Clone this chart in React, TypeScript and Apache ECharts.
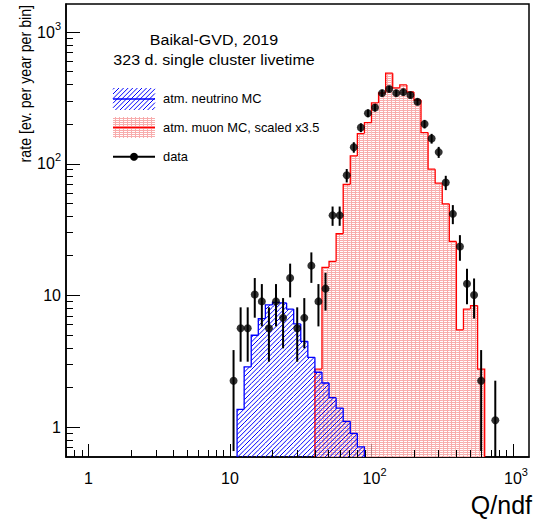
import React, { useEffect, useRef } from "react";
import * as echarts from "echarts";

const W = 534;
const H = 523;
const FONT = "'Liberation Sans', Arial, Helvetica, sans-serif";

// Histogram binning: uniform bins of 0.05 in log10(Q/ndf); bin k spans [10^(0.05k), 10^(0.05(k+1))]
const LOG_BIN = 0.05;

// atm. neutrino MC (blue hatched), first bin index
const nuFirstBin = 21;
const nuRates = [1.37, 2.88, 5.0, 6.7, 8.5, 8.9, 8.8, 7.9, 6.1, 4.5, 3.4, 2.62, 2.17, 1.68, 1.4, 1.11, 0.9, 0.71];

// atm. muon MC scaled x3.5 (red)
const muFirstBin = 32;
const muRates = [2.77, 16.4, 18.2, 29.5, 69.8, 115, 170, 206, 291, 346, 489, 378, 398, 352, 306, 173, 91.3, 71.5, 49.8, 25.8, 5.5, 7.9, 8.4, 2.77];

// data points (bin centres), rate and error
const dataFirstBin = 20;
const dataRates = [2.26, 5.65, 5.65, 10.2, 9.04, 5.65, 9.04, 6.78, 13.6, 5.65, 6.78, 16.9, 9.04, 11.3, 40.7, 40.7, 82, 134, 189, 243, 268, 345, 371, 345, 351, 334, 297, 201, 156, 123, 72.3, 41.8, 23.6, 12.3, 10.1, 2.26, null, 1.13];
const dataErrs = [1.6, 2.5, 2.5, 3.4, 3.2, 2.5, 3.2, 2.8, 3.9, 2.5, 2.8, 4.4, 3.2, 3.6, 6.8, 6.8, 9.6, 12.3, 14.6, 16.6, 17.4, 19.7, 20.5, 19.7, 19.9, 19.4, 18.3, 15.1, 13.3, 11.8, 9.0, 6.9, 5.2, 3.7, 3.4, 1.6, null, 1.13];

// axes
const X_MIN = 0.693;
const X_MAX = 1298;
const Y_MIN = 0.595;
const Y_MAX = 1640;
const xMinorTicks = [0.7, 0.8, 0.9, 2, 3, 4, 5, 6, 7, 8, 9, 20, 30, 40, 50, 60, 70, 80, 90, 200, 300, 400, 500, 600, 700, 800, 900];
const yMinorTicks = [0.7, 0.8, 0.9, 2, 3, 4, 5, 6, 7, 8, 9, 20, 30, 40, 50, 60, 70, 80, 90, 200, 300, 400, 500, 600, 700, 800, 900];

const edge = (k: number) => Math.pow(10, k * LOG_BIN);
const centre = (k: number) => Math.pow(10, (k + 0.5) * LOG_BIN);

const HATCH = 4.6;

function hatchLines(x0: number, y0: number, x1: number, y1: number, p: number) {
  const out: number[][] = [];
  const cMin = x0 + y0;
  const cMax = x1 + y1;
  for (let k = Math.ceil(cMin / p); k * p <= cMax; k++) {
    const c = k * p;
    const lo = Math.max(x0, c - y1);
    const hi = Math.min(x1, c - y0);
    if (hi - lo > 0.05) out.push([lo, c - lo, hi, c - hi]);
  }
  return out;
}

function makeMuonPattern(): any {
  const c = document.createElement("canvas");
  c.width = 4;
  c.height = 2;
  const ctx = c.getContext("2d")!;
  ctx.fillStyle = "rgb(248,172,172)";
  ctx.fillRect(0, 0, 4, 2);
  ctx.fillStyle = "#ffffff";
  ctx.fillRect(0, 1, 3, 1);
  return { image: c, repeat: "repeat", imageWidth: 4, imageHeight: 2 };
}

function histSeries(rates: number[], firstBin: number, color: string, mode: "hatch" | "fill", pattern: any, z: number) {
  const data = rates.map((v, i) => [edge(firstBin + i), edge(firstBin + i + 1), v]);
  return {
    type: "custom",
    z,
    clip: true,
    silent: true,
    encode: { x: [0, 1], y: 2 },
    data,
    renderItem: (params: any, api: any) => {
      const i = params.dataIndex;
      const lo = api.value(0);
      const hi = api.value(1);
      const v = api.value(2);
      const cs = params.coordSys;
      const bottom = cs.y + cs.height;
      const pA = api.coord([lo, v]);
      const pB = api.coord([hi, v]);
      const x0 = pA[0];
      const x1 = pB[0];
      const yv = pA[1];
      const yPrev = i > 0 ? api.coord([lo, rates[i - 1]])[1] : bottom;
      const children: any[] = [];
      if (mode === "fill") {
        children.push({ type: "rect", shape: { x: x0, y: yv, width: x1 - x0, height: bottom - yv }, style: { fill: pattern } });
      } else {
        for (const s of hatchLines(x0, yv, x1, bottom, HATCH)) {
          children.push({ type: "line", shape: { x1: s[0], y1: s[1], x2: s[2], y2: s[3] }, style: { stroke: color, lineWidth: 1 } });
        }
      }
      const pts: number[][] = [[x0, yPrev], [x0, yv], [x1, yv]];
      if (i === rates.length - 1) pts.push([x1, bottom]);
      children.push({ type: "polyline", shape: { points: pts }, style: { stroke: color, lineWidth: 1.3, fill: null } });
      return { type: "group", children };
    },
  };
}

function isDecade(v: number) {
  const l = Math.log10(v);
  return Math.abs(l - Math.round(l)) < 1e-6 ? Math.round(l) : null;
}

const labelRich = {
  b: { fontSize: 16, fontFamily: FONT, color: "#000", padding: [4, 0, 4, 0], verticalAlign: "bottom" },
  sup: { fontSize: 11, fontFamily: FONT, color: "#000", verticalAlign: "top" },
  pad: { fontSize: 11, fontFamily: FONT, color: "transparent", verticalAlign: "top" },
};

function xLabel(v: number) {
  const e = isDecade(v);
  if (e === null) return "";
  if (e === 0) return "{b|1}";
  if (e === 1) return "{b|10}";
  return `{pad|${e}}{b|10}{sup|${e}}`;
}

function yLabel(v: number) {
  const e = isDecade(v);
  if (e === null) return "";
  if (e === 0) return "{b|1}";
  if (e === 1) return "{b|10}";
  return `{b|10}{sup|${e}}`;
}

function buildOption(): any {
  const pattern = makeMuonPattern();
  const pts = dataRates
    .map((v, i) => (v == null ? null : [centre(dataFirstBin + i), v, dataErrs[i] as number]))
    .filter((d) => d !== null) as number[][];

  const legendHatch = hatchLines(113, 88, 155, 110, HATCH).map((s) => ({
    type: "line",
    shape: { x1: s[0], y1: s[1], x2: s[2], y2: s[3] },
    style: { stroke: "#0000ff", lineWidth: 1 },
    silent: true,
  }));

  const txt = (x: number, y: number, text: string, size: number, align: string, extra: any = {}) => ({
    type: "text",
    x,
    y,
    silent: true,
    ...extra,
    style: {
      text,
      font: `${size}px ${FONT}`,
      fill: "#000",
      align,
      textAlign: align,
      verticalAlign: "middle",
      textVerticalAlign: "middle",
    },
  });

  return {
    animation: false,
    backgroundColor: "#fff",
    grid: { left: 66, right: 5, top: 4, bottom: 66, show: true, borderColor: "#000", borderWidth: 1.5, backgroundColor: "transparent" },
    xAxis: {
      type: "log",
      logBase: 10,
      min: X_MIN,
      max: X_MAX,
      axisLine: { show: true, onZero: false, lineStyle: { color: "#000", width: 1.5 } },
      axisTick: { show: true, inside: true, length: 13, lineStyle: { color: "#000", width: 1 } },
      minorTick: { show: false },
      splitLine: { show: false },
      axisLabel: { show: true, margin: 9, formatter: xLabel, rich: labelRich, showMinLabel: false, showMaxLabel: false, fontFamily: FONT, fontSize: 16, color: "#000" },
    },
    yAxis: {
      type: "log",
      logBase: 10,
      min: Y_MIN,
      max: Y_MAX,
      axisLine: { show: true, onZero: false, lineStyle: { color: "#000", width: 1.5 } },
      axisTick: { show: true, inside: true, length: 14, lineStyle: { color: "#000", width: 1 } },
      minorTick: { show: false },
      splitLine: { show: false },
      axisLabel: { show: true, margin: 5, formatter: yLabel, rich: labelRich, showMinLabel: false, showMaxLabel: false, fontFamily: FONT, fontSize: 16, color: "#000" },
    },
    series: [
      histSeries(muRates, muFirstBin, "#ff0000", "fill", pattern, 2),
      histSeries(nuRates, nuFirstBin, "#0000ff", "hatch", null, 3),
      {
        type: "custom",
        z: 4,
        clip: true,
        silent: true,
        encode: { x: 0, y: 1 },
        data: pts,
        renderItem: (params: any, api: any) => {
          const q = api.value(0);
          const v = api.value(1);
          const e = api.value(2);
          const cs = params.coordSys;
          const bottom = cs.y + cs.height;
          const pHi = api.coord([q, v + e]);
          const lo = v - e;
          const yLo = lo > Y_MIN ? api.coord([q, lo])[1] : bottom;
          return { type: "line", shape: { x1: pHi[0], y1: Math.max(pHi[1], cs.y), x2: pHi[0], y2: yLo }, style: { stroke: "#000", lineWidth: 2 } };
        },
      },
      {
        type: "scatter",
        z: 5,
        silent: true,
        symbol: "circle",
        symbolSize: 8,
        itemStyle: { color: "#000" },
        data: pts.map((d) => [d[0], d[1]]),
      },
      {
        type: "custom",
        z: 6,
        silent: true,
        encode: { x: 0, y: 1 },
        data: xMinorTicks.map((q) => [q, 1]),
        renderItem: (params: any, api: any) => {
          const p = api.coord([api.value(0), 1]);
          const b = params.coordSys.y + params.coordSys.height;
          const x = Math.round(p[0] - 0.5) + 0.5;
          return { type: "line", shape: { x1: x, y1: b, x2: x, y2: b - 7 }, style: { stroke: "#000", lineWidth: 1 } };
        },
      },
      {
        type: "custom",
        z: 6,
        silent: true,
        encode: { x: 0, y: 1 },
        data: yMinorTicks.map((v) => [1, v]),
        renderItem: (params: any, api: any) => {
          const p = api.coord([1, api.value(1)]);
          const l = params.coordSys.x;
          const y = Math.round(p[1] - 0.5) + 0.5;
          return { type: "line", shape: { x1: l, y1: y, x2: l + 7, y2: y }, style: { stroke: "#000", lineWidth: 1 } };
        },
      },
    ],
    graphic: [
      txt(25, 5, "rate [ev. per year per bin]", 14.2, "right", { rotation: Math.PI / 2, scaleY: 1.1 }),
      txt(532, 505, "Q/ndf", 25, "right"),
      txt(214, 39.5, "Baikal-GVD, 2019", 15, "center", { scaleX: 1.07 }),
      txt(214, 59.5, "323 d. single cluster livetime", 15, "center", { scaleX: 1.07 }),
      ...legendHatch,
      { type: "line", silent: true, shape: { x1: 113, y1: 99, x2: 155, y2: 99 }, style: { stroke: "#0000ff", lineWidth: 1.3 } },
      txt(163, 99.5, "atm. neutrino MC", 12.5, "left", { scaleX: 1.03 }),
      { type: "rect", silent: true, shape: { x: 113, y: 117, width: 42, height: 21 }, style: { fill: pattern } },
      { type: "line", silent: true, shape: { x1: 113, y1: 127.5, x2: 155, y2: 127.5 }, style: { stroke: "#ff0000", lineWidth: 1.3 } },
      txt(163, 128, "atm. muon MC, scaled x3.5", 12.5, "left", { scaleX: 1.03 }),
      { type: "line", silent: true, shape: { x1: 113, y1: 156.7, x2: 155, y2: 156.7 }, style: { stroke: "#000", lineWidth: 2 } },
      { type: "circle", silent: true, shape: { cx: 134, cy: 156.7, r: 4 }, style: { fill: "#000" } },
      txt(163, 157, "data", 12.5, "left", { scaleX: 1.03 }),
    ],
  };
}

export default function App() {
  const ref = useRef<HTMLDivElement>(null);
  useEffect(() => {
    if (!ref.current) return;
    const chart = echarts.init(ref.current, null, { renderer: "svg", width: W, height: H });
    chart.setOption(buildOption());
    return () => chart.dispose();
  }, []);
  return <div ref={ref} style={{ position: "fixed", left: 0, top: 0, width: W, height: H, background: "#fff" }} />;
}
